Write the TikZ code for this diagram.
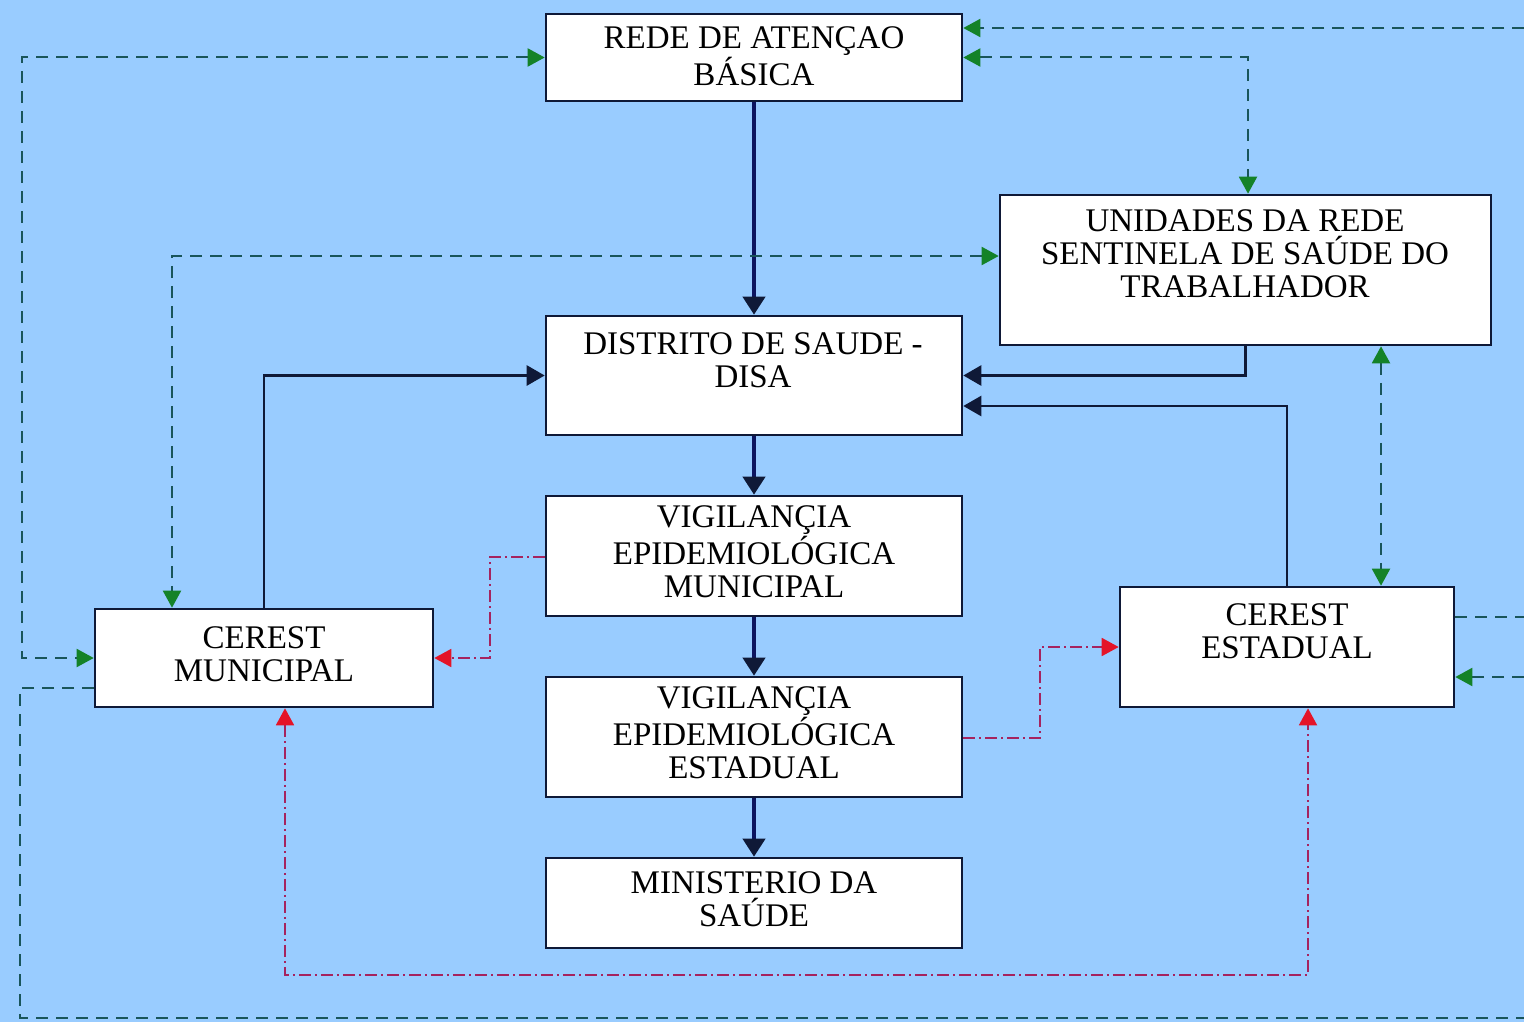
\documentclass[tikz,border=0pt]{standalone}
\usepackage{fontspec}
\setmainfont{Liberation Serif}
\usetikzlibrary{arrows.meta}
\definecolor{bg}{RGB}{153,204,255}
\definecolor{navy}{RGB}{15,25,55}
\definecolor{gline}{RGB}{25,85,90}
\definecolor{gtip}{RGB}{20,130,40}
\definecolor{rline}{RGB}{165,35,95}
\definecolor{rtip}{RGB}{228,20,40}
\tikzset{
  box/.style={draw=navy, line width=1.3pt, fill=white, rectangle, inner sep=0pt},
  txt/.style={align=center, font=\fontsize{16.5}{16.5}\selectfont, inner sep=0pt},
  solidline/.style={draw=navy, line width=1.3pt, -{Triangle[length=9pt,width=10pt,color=navy]}},
  mainline/.style={draw=navy!80!blue, line width=2pt, -{Triangle[length=9pt,width=11pt,color=navy]}},
  gdash/.style={draw=gline, line width=1pt, dash pattern=on 6pt off 4pt},
  gtipstyle/.tip={Triangle[length=8.5pt,width=9pt,color=gtip]},
  rdash/.style={draw=rline, line width=0.9pt, dash pattern=on 6pt off 2pt on 1pt off 2pt},
  rtipstyle/.tip={Triangle[length=8.5pt,width=9pt,color=rtip]},
}
\begin{document}
\begin{tikzpicture}[x=0.5pt,y=-0.5pt]
\useasboundingbox (0,0) rectangle (1524,1022);
\fill[bg] (0,0) rectangle (1524,1022);

% boxes
\node[box, minimum width=208pt, minimum height=43.5pt] (rede) at (754,57.5) {};
\node[box, minimum width=245.5pt, minimum height=75pt] (unid) at (1245.5,270) {};
\node[box, minimum width=208pt, minimum height=59.5pt] (disa) at (754,375.5) {};
\node[box, minimum width=208pt, minimum height=60pt] (vem) at (754,556) {};
\node[box, minimum width=208pt, minimum height=60pt] (vee) at (754,737) {};
\node[box, minimum width=208pt, minimum height=45pt] (min) at (754,903) {};
\node[box, minimum width=169pt, minimum height=49pt] (cmun) at (264,658) {};
\node[box, minimum width=167pt, minimum height=60pt] (cest) at (1287,647) {};

% texts
\node[txt] (trede) at (754,56) {REDE DE ATENÇAO\\BÁSICA};
\node[txt] (tunid) at (1245,254) {UNIDADES DA REDE\\SENTINELA DE SAÚDE DO\\TRABALHADOR};
\node[txt] (tdisa) at (753,360) {DISTRITO DE SAUDE -\\DISA};
\node[txt] (tvem) at (754,552) {VIGILANÇIA\\EPIDEMIOLÓGICA\\MUNICIPAL};
\node[txt] (tvee) at (754,733) {VIGILANÇIA\\EPIDEMIOLÓGICA\\ESTADUAL};
\node[txt] (tmin) at (754,899) {MINISTERIO DA\\SAÚDE};
\node[txt] (tcmun) at (264,654) {CEREST\\MUNICIPAL};
\node[txt] (tcest) at (1287,631) {CEREST\\ESTADUAL};

% main vertical chain
\draw[mainline] (rede.south) -- (disa.north);
\draw[mainline] (disa.south) -- (vem.north);
\draw[mainline] (vem.south) -- (vee.north);
\draw[mainline] (vee.south) -- (min.north);

% solid connectors to DISA
\draw[solidline] (cmun.north) |- (disa.west);
\draw[solidline] (unid.south) |- (disa.east);
\draw[solidline] (cest.north) |- (disa.east |- 0,406);

% green dashed connectors
\coordinate (e1) at (1524,28);
\coordinate (e2) at (1524,617);
\coordinate (e3) at (1524,677);
\coordinate (e4) at (1524,1018);
\draw[gdash, -gtipstyle] (e1) -- (rede.east |- e1);
\draw[gdash, gtipstyle-gtipstyle] (rede.east) -| (unid.north -| 1248,0);
\draw[gdash, gtipstyle-gtipstyle] (rede.west) -- (22,57.5) |- (cmun.west);
\draw[gdash, gtipstyle-gtipstyle] (unid.west |- 0,256) -| (cmun.north -| 172,0);
\draw[gdash, gtipstyle-gtipstyle] (unid.south -| 1381,0) -- (cest.north -| 1381,0);
\draw[gdash] (cest.east |- e2) -- (e2);
\draw[gdash, -gtipstyle] (e3) -- (cest.east |- e3);
\draw[gdash] (cmun.west |- 0,688) -| (20,1018) -- (e4);

% red dash-dot connectors
\draw[rdash, -rtipstyle] (vem.west |- 0,557) -- (490,557) |- (cmun.east);
\draw[rdash, -rtipstyle] (vee.east |- 0,738) -- (1040,738) |- (cest.west);
\draw[rdash, rtipstyle-rtipstyle] (cmun.south -| 285,0) -- (285,975) -| (cest.south -| 1308,0);
\end{tikzpicture}
\end{document}
